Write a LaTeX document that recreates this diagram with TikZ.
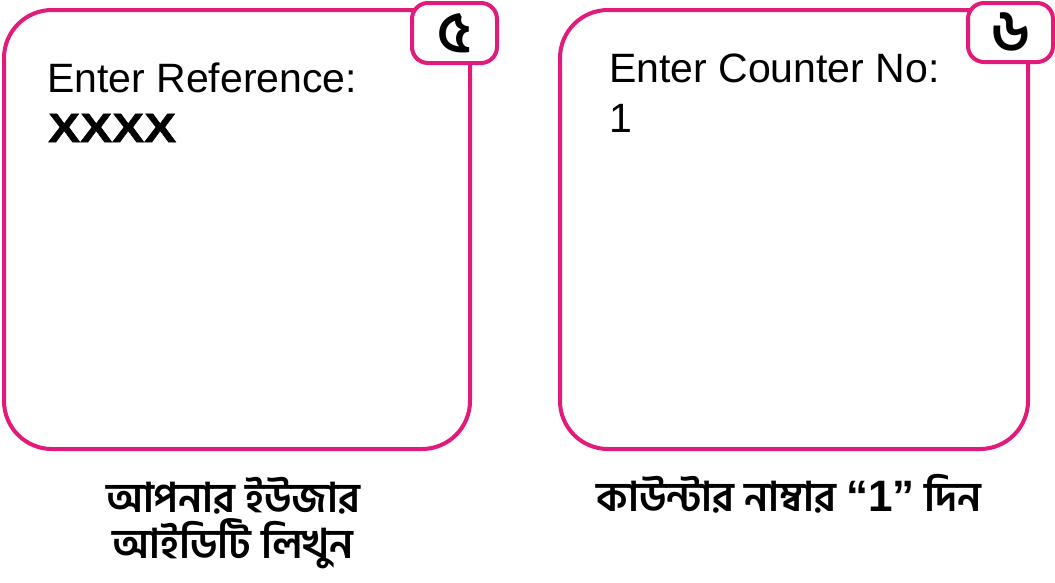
\documentclass[tikz,border=0pt]{standalone}
\usepackage{fontspec}
\setmainfont{Liberation Sans}
\newfontfamily\bnfont[Script=Bengali]{Hind Siliguri}
\newfontfamily\widebold[FakeStretch=1.17, FakeBold=1.2]{Liberation Sans Bold}
\usetikzlibrary{positioning}
\definecolor{screenpink}{RGB}{226,26,122}
\tikzset{screen/.style={draw=screenpink, line width=4pt, rounded corners=48pt, fill=white, minimum height=439pt, inner sep=0pt},
	badge/.style={draw=screenpink, line width=4pt, rounded corners=16pt, fill=white, minimum width=85pt, inner sep=0pt, font=\bnfont\bfseries\fontsize{58}{58}\selectfont},
	prompt/.style={anchor=base west, inner sep=0pt, font=\fontsize{41}{41}\selectfont},
	caption/.style={align=center, inner sep=0pt, font=\bnfont\bfseries\fontsize{41}{46}\selectfont}}

\begin{document}
\begin{tikzpicture}[x=1pt,y=-1pt]
	\useasboundingbox (0,0) rectangle (1055,582);
	% screen 5
	\node[screen, minimum width=466pt] (scrA) at (237,229.5) {};
	\node[badge, minimum height=60pt] (badgeA) at (454.5,33) {৫};
	\node[prompt] (refA) at (47,92) {Enter Reference:};
	\node[prompt, font=\widebold\fontsize{41}{41}\selectfont] (valA) at (48,142) {XXXX};
	\node[caption] (capA) at (233,523) {আপনার ইউজার\\আইডিটি লিখুন};
	% screen 6
	\node[screen, minimum width=468pt] (scrB) at (794,229.5) {};
	\node[badge, minimum height=59pt] (badgeB) at (1010.5,32.5) {৬};
	\node[prompt] (refB) at (609,82) {Enter Counter No:};
	\node[prompt] (valB) at (609,132) {1};
	\node[caption] (capB) at (789,494) {কাউন্টার নাম্বার {\rmfamily\bfseries\fontsize{44}{46}\selectfont “1”} দিন};
\end{tikzpicture}
\end{document}
